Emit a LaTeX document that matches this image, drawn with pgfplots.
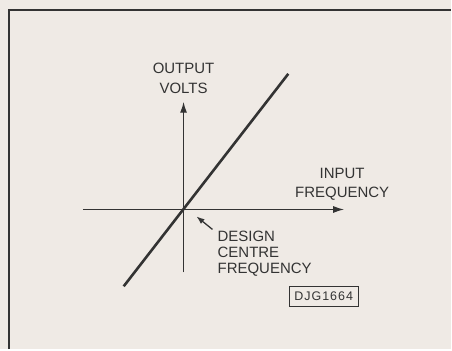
\documentclass[border=0pt]{standalone}
\usepackage{pgfplots}
\pgfplotsset{compat=1.18}
\usetikzlibrary{arrows.meta}
\usepackage{fontspec}
\setmainfont{Liberation Sans}
\definecolor{paper}{HTML}{EFEAE5}
\definecolor{ink}{HTML}{333333}
\begin{document}
\begin{tikzpicture}
% paper and frame (1 unit = 1 pixel of the reference, origin at the design centre)
\fill[paper] (-184pt,210pt) rectangle (268pt,-140pt);
\draw[ink, line width=2.2pt] (-175pt,-140pt) -- (-175pt,200pt) -- (268pt,200pt);
\begin{axis}[
    x=1pt, y=1pt, anchor=origin, at={(0,0)},
    xmin=-101, xmax=161, ymin=-63, ymax=108,
    axis lines=middle,
    axis line style={ink, line width=1.3pt, -{Latex[length=11pt,width=7pt]}},
    xtick=\empty, ytick=\empty,
    clip=false,
]
\addplot[ink, line width=2.6pt] coordinates {(-60,-77) (105,136)};
\end{axis}
\node[ink, font=\fontsize{15}{20}\selectfont, align=center] at (0pt,131pt) {OUTPUT\\VOLTS};
\node[ink, font=\fontsize{15}{19}\selectfont, align=center] at (159pt,25.5pt) {INPUT\\FREQUENCY};
\node[ink, font=\fontsize{15}{16}\selectfont, align=left, anchor=west, inner sep=0pt] at (34pt,-44pt) {DESIGN\\CENTRE\\FREQUENCY};
\draw[ink, line width=1.3pt, -{Latex[length=8pt,width=6pt]}] (29pt,-20pt) -- (13pt,-7pt);
\node[ink, draw, line width=1.1pt, minimum width=69pt, minimum height=20pt, inner sep=0pt,
      font=\addfontfeatures{LetterSpace=8}\fontsize{12.5}{14}\selectfont] at (140.5pt,-87pt) {DJG1664};
\end{tikzpicture}
\end{document}
